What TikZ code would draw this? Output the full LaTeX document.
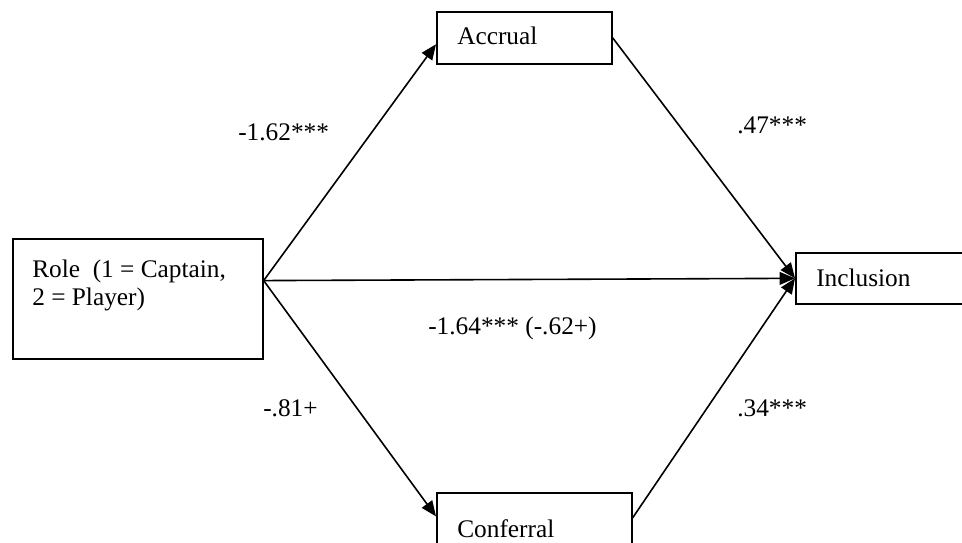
\documentclass[tikz,border=0pt]{standalone}
\usepackage{fontspec}
\setmainfont{Liberation Serif}
\usetikzlibrary{arrows.meta, calc}

\begin{document}
\begin{tikzpicture}[
  x=0.75pt, y=-0.75pt,
  box/.style={draw, line width=1.25pt, inner sep=0pt, anchor=north west,
              font=\fontsize{19}{21}\selectfont},
  lbl/.style={anchor=base west, inner sep=0pt, font=\fontsize{19}{21}\selectfont},
  arr/.style={-{Triangle[length=11.5pt, width=9.5pt]}, line width=1.2pt}
]
\useasboundingbox (0,0) rectangle (962,542);

% boxes
\node[box, minimum width=250*0.75pt, minimum height=120*0.75pt] (role) at (12,238) {};
\node[lbl] (roletxt) at (32,277) {Role\enspace(1 = Captain,};
\node[lbl] (roletxt2) at (32,305) {2 = Player)};

\node[box, minimum width=175*0.75pt, minimum height=52*0.75pt] (accrual) at (436,11) {};
\node[lbl] (acctxt) at (457,45) {Accrual};

\node[box, minimum width=195*0.75pt, minimum height=70*0.75pt] (conferral) at (436,492) {};
\node[lbl] (conftxt) at (457,537) {Conferral};

\node[box, minimum width=180*0.75pt, minimum height=51*0.75pt] (inclusion) at (795,252) {};
\node[lbl] (incltxt) at (816,286) {Inclusion};

% paths
\coordinate (rolepoint) at ($(role.north east)!0.35!(role.south east)$);
\draw[arr] (rolepoint) -- ($(accrual.north west)!0.62!(accrual.south west)$);
\draw[arr] (rolepoint) -- (inclusion.west);
\draw[arr] (rolepoint) -- ($(conferral.north west)!0.34!(conferral.south west)$);
\draw[arr] (accrual.east) -- (inclusion.west);
\draw[arr] ($(conferral.north east)!0.36!(conferral.south east)$) -- (inclusion.west);

% coefficients
\node[lbl] (a1) at (238,140) {-1.62***};
\node[lbl] (b1) at (737,133) {.47***};
\node[lbl] (c1) at (428,334) {-1.64*** (-.62+)};
\node[lbl] (a2) at (263,416) {-.81+};
\node[lbl] (b2) at (737,416) {.34***};

\end{tikzpicture}
\end{document}
